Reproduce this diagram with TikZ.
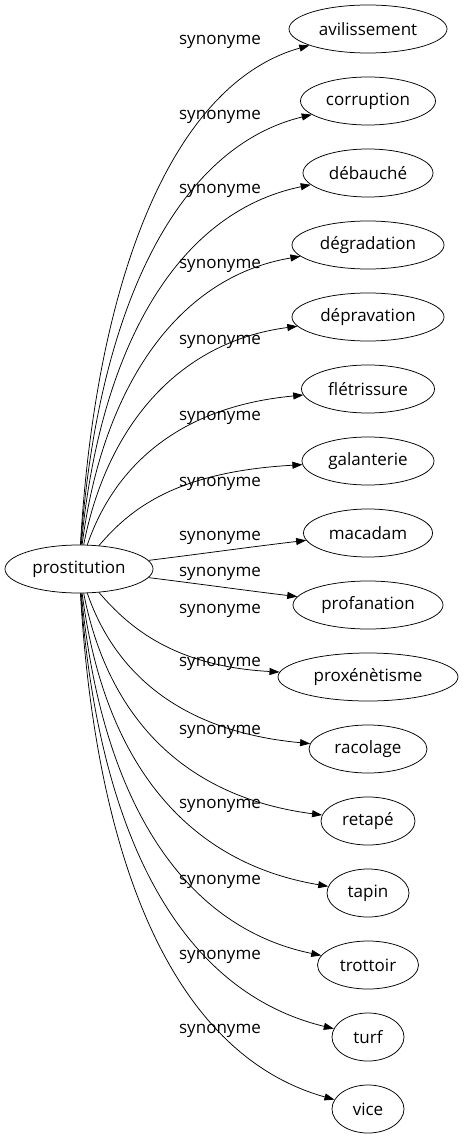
\documentclass[tikz,border=0pt]{standalone}
\usepackage{fontspec}
\setmainfont{Open Sans}
\usetikzlibrary{shapes.geometric,arrows.meta}

\begin{document}
\begin{tikzpicture}[x=1pt,y=-1pt,
  palabra/.style={draw, ellipse, inner sep=0pt, minimum height=48pt, line width=0.75pt, font=\fontsize{17}{20}\selectfont},
  etiqueta/.style={inner sep=0pt, font=\fontsize{17}{20}\selectfont},
  flecha/.style={-{Triangle[length=10pt,width=7pt]}, line width=0.75pt}]
	\useasboundingbox (0,0) rectangle (464,1139);

	% Nodo central
	\node[palabra, minimum width=148pt] (p) at (79,569) {prostitution};

	% Sinonimos y flechas
	\foreach \t/\w/\ly [count=\i from 0] in {avilissement/158/42, corruption/135/117, débauché/130/191, dégradation/152/266, dépravation/152/342, flétrissure/133/418, galanterie/132/484, macadam/129/538, profanation/150/574, proxénètisme/180/611, racolage/118/664, retapé/94/732, tapin/82/806, trottoir/101/882, turf/72/957, vice/72/1031}
	{
		\pgfmathsetmacro{\ye}{29+72*\i}
		\pgfmathsetmacro{\dy}{abs(569-\ye)}
		\pgfmathsetmacro{\sg}{\ye>569 ? 1 : -1}
		\pgfmathsetmacro{\cax}{\dy<50 ? 200 : 88+4500/\dy}
		\pgfmathsetmacro{\cay}{\dy<50 ? 569+\sg*15 : 569+\sg*0.55*\dy}
		\pgfmathsetmacro{\cbx}{\dy<50 ? 250 : 175}
		\pgfmathsetmacro{\cby}{\dy<50 ? 569+\sg*22 : \ye-\sg*0.1*\dy}
		\node[palabra, minimum width=\w pt] (s\i) at (368,\ye) {\t};
		\node[etiqueta] (l\i) at (220,\ly) {synonyme};
		\draw[flecha] (p) .. controls (\cax,\cay) and (\cbx,\cby) .. (s\i);
	}
\end{tikzpicture}
\end{document}
